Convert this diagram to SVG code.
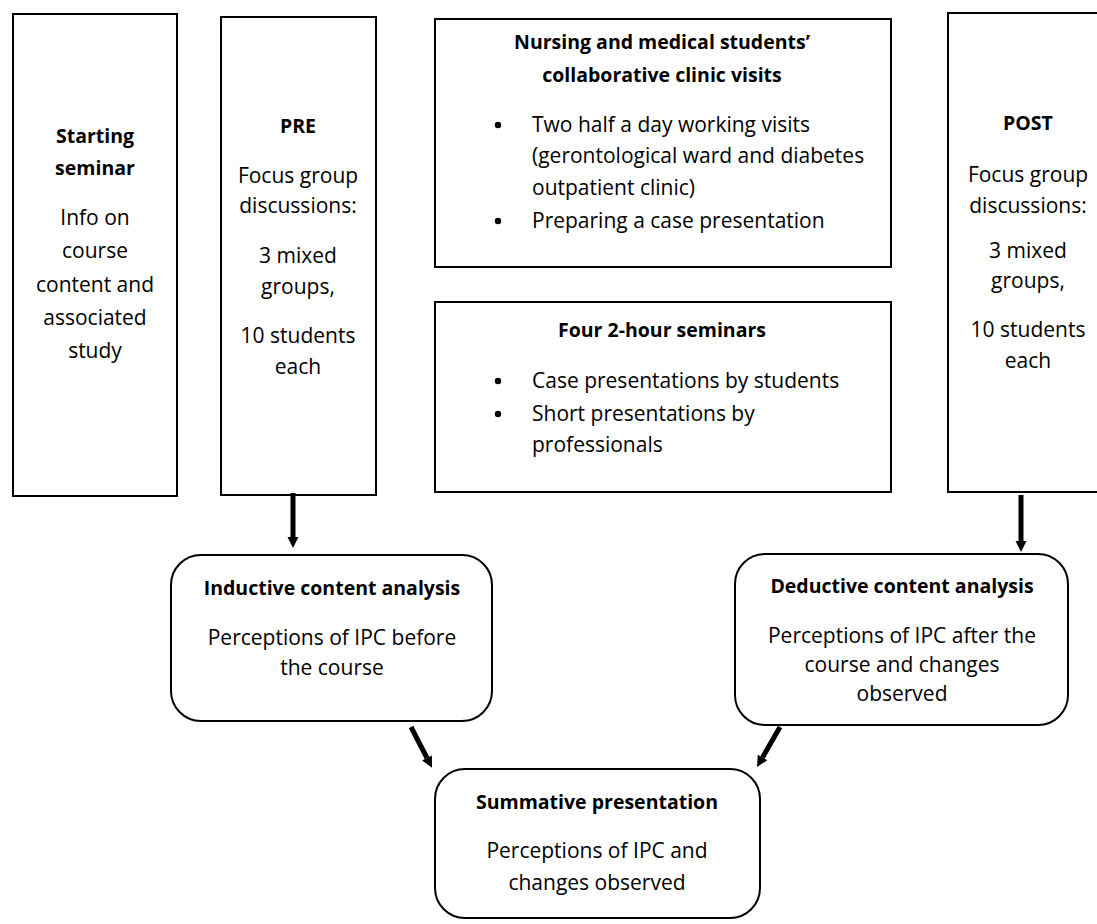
<svg xmlns="http://www.w3.org/2000/svg" width="1097" height="924" viewBox="0 0 1097 924">
<defs>
<style>
.box{fill:#fff;stroke:#000;stroke-width:2}
.t{font-family:"Open Sans","Noto Sans","Liberation Sans",sans-serif;font-size:21px;fill:#000;text-anchor:middle}
.b{font-weight:bold;font-size:19.5px}
.l{text-anchor:start}
.shaft{stroke:#000;stroke-width:5;fill:none}
</style>
<marker id="ah" markerWidth="2.4" markerHeight="2.4" refX="0" refY="1.1" orient="auto" markerUnits="strokeWidth" overflow="visible">
<path d="M0,0 L2.2,1.1 L0,2.2 z" fill="#000"/>
</marker>
</defs>
<rect width="1097" height="924" fill="#fff"/>
<g id="starting">
<rect class="box" x="13" y="14" width="164" height="482"/>
<text class="t b" x="95" y="143">Starting</text>
<text class="t b" x="95" y="175">seminar</text>
<text class="t" x="95" y="225">Info on</text>
<text class="t" x="95" y="258">course</text>
<text class="t" x="95" y="292">content and</text>
<text class="t" x="95" y="325">associated</text>
<text class="t" x="95" y="358">study</text>
</g>
<g id="pre">
<rect class="box" x="221" y="17" width="155" height="478"/>
<text class="t b" x="298" y="133">PRE</text>
<text class="t" x="298" y="183">Focus group</text>
<text class="t" x="298" y="213">discussions:</text>
<text class="t" x="298" y="263">3 mixed</text>
<text class="t" x="298" y="294">groups,</text>
<text class="t" x="298" y="343">10 students</text>
<text class="t" x="298" y="374">each</text>
</g>
<g id="visits">
<rect class="box" x="435" y="19" width="456" height="248"/>
<text class="t b" x="662" y="49">Nursing and medical students’</text>
<text class="t b" x="662" y="82">collaborative clinic visits</text>
<circle cx="498" cy="125" r="3.2"/>
<text class="t l" x="532" y="132">Two half a day working visits</text>
<text class="t l" x="532" y="163">(gerontological ward and diabetes</text>
<text class="t l" x="532" y="195">outpatient clinic)</text>
<circle cx="498" cy="221" r="3.2"/>
<text class="t l" x="532" y="228">Preparing a case presentation</text>
</g>
<g id="seminars">
<rect class="box" x="435" y="302" width="456" height="190"/>
<text class="t b" x="662" y="337">Four 2-hour seminars</text>
<circle cx="498" cy="381" r="3.2"/>
<text class="t l" x="532" y="388">Case presentations by students</text>
<circle cx="498" cy="414" r="3.2"/>
<text class="t l" x="532" y="421">Short presentations by</text>
<text class="t l" x="532" y="452">professionals</text>
</g>
<g id="post">
<rect class="box" x="948" y="13" width="160" height="479"/>
<text class="t b" x="1028" y="130">POST</text>
<text class="t" x="1028" y="182">Focus group</text>
<text class="t" x="1028" y="213">discussions:</text>
<text class="t" x="1028" y="258">3 mixed</text>
<text class="t" x="1028" y="288">groups,</text>
<text class="t" x="1028" y="337">10 students</text>
<text class="t" x="1028" y="368">each</text>
</g>
<g id="inductive">
<rect class="box" x="171" y="555" width="321" height="166" rx="30" ry="30"/>
<text class="t b" x="332" y="595">Inductive content analysis</text>
<text class="t" x="332" y="645">Perceptions of IPC before</text>
<text class="t" x="332" y="675">the course</text>
</g>
<g id="deductive">
<rect class="box" x="735" y="554" width="333" height="171" rx="30" ry="30"/>
<text class="t b" x="902" y="593">Deductive content analysis</text>
<text class="t" x="902" y="643">Perceptions of IPC after the</text>
<text class="t" x="902" y="672">course and changes</text>
<text class="t" x="902" y="701">observed</text>
</g>
<g id="summative">
<rect class="box" x="435" y="769" width="325" height="149" rx="30" ry="30"/>
<text class="t b" x="597" y="809">Summative presentation</text>
<text class="t" x="597" y="858">Perceptions of IPC and</text>
<text class="t" x="597" y="890">changes observed</text>
</g>
<g id="connectors">
<line class="shaft" x1="293" y1="493" x2="293" y2="537" marker-end="url(#ah)"/>
<line class="shaft" x1="1021" y1="495" x2="1021" y2="541" marker-end="url(#ah)"/>
<line class="shaft" x1="411" y1="727" x2="427" y2="758" marker-end="url(#ah)"/>
<line class="shaft" x1="780" y1="727" x2="762.5" y2="757.4" marker-end="url(#ah)"/>
</g>
</svg>
